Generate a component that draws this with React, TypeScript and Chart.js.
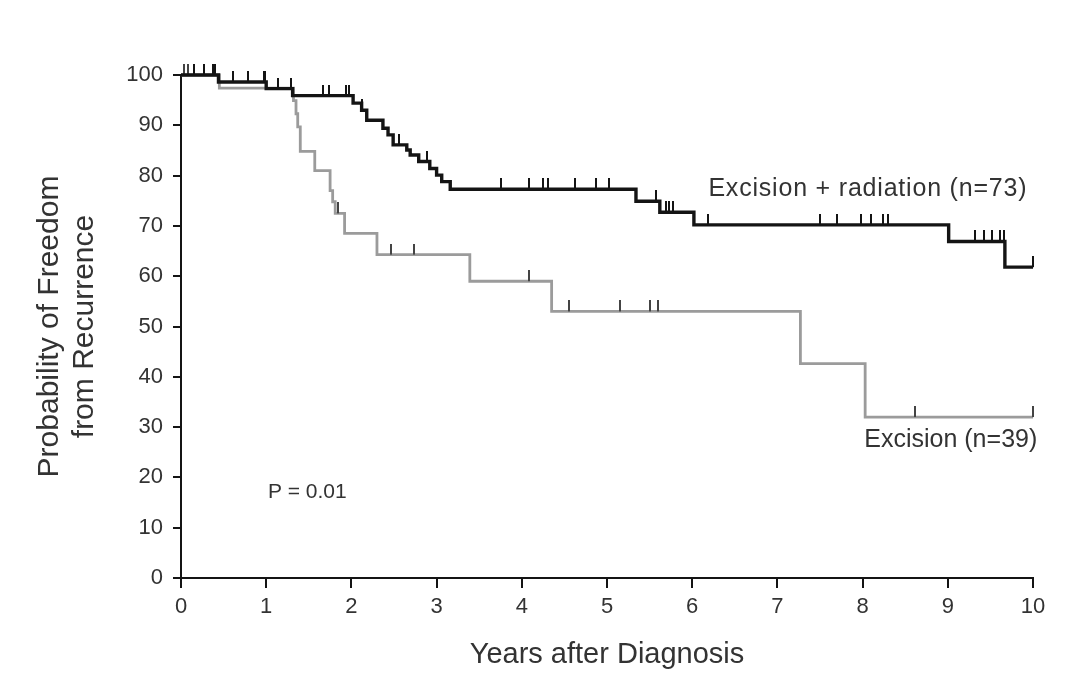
import React, { useEffect, useRef } from "react";
import { Chart, registerables } from "chart.js";

Chart.register(...registerables);

// Kaplan-Meier step data: time (years) at which the level starts, and level (%)
const radTimes = [0, 0.44, 1.0, 1.31, 2.02, 2.12, 2.18, 2.37, 2.43, 2.49, 2.65, 2.69, 2.79, 2.92, 3.0, 3.06, 3.16, 5.34, 5.62, 6.02, 9.01, 9.67, 10.0];
const radSurv = [100, 98.6, 97.3, 95.9, 94.4, 93.0, 91.0, 89.4, 88.1, 86.1, 85.1, 84.1, 82.8, 81.4, 80.1, 78.8, 77.3, 74.9, 72.7, 70.2, 66.9, 61.8, 61.8];
const radCensor = [0.15, 0.27, 0.38, 0.4, 0.61, 0.79, 0.97, 0.99, 1.14, 1.29, 1.67, 1.74, 1.94, 1.97, 2.12, 2.56, 2.89, 3.76, 4.09, 4.25, 4.31, 4.62, 4.87, 5.02, 5.57, 5.69, 5.73, 5.78, 6.19, 7.5, 7.7, 7.98, 8.1, 8.24, 8.3, 9.32, 9.43, 9.52, 9.61, 9.66, 10.0];

const excTimes = [0, 0.45, 1.32, 1.35, 1.37, 1.4, 1.57, 1.75, 1.78, 1.81, 1.92, 2.3, 3.39, 4.35, 7.27, 8.03, 10.0];
const excSurv = [100, 97.4, 94.9, 92.3, 89.7, 84.8, 81.0, 77.0, 74.8, 72.5, 68.5, 64.3, 59.0, 53.0, 42.6, 32.0, 32.0];
const excCensor = [0.04, 0.08, 1.84, 2.46, 2.74, 4.09, 4.55, 5.15, 5.5, 5.6, 8.62, 10.0];

const xTicks = [0, 1, 2, 3, 4, 5, 6, 7, 8, 9, 10];
const yTicks = [0, 10, 20, 30, 40, 50, 60, 70, 80, 90, 100];

const radLabel = "Excision + radiation (n=73)";
const excLabel = "Excision (n=39)";
const pLabel = "P = 0.01";
const xTitle = "Years after Diagnosis";
const yTitle = ["Probability of Freedom", "from Recurrence"];

const BLACK = "#141414";
const GRAY = "#9b9b9b";
const TEXT = "#333333";
const FONT = "'Liberation Sans', Arial, sans-serif";

function levelAt(times: number[], surv: number[], t: number) {
  let v = surv[0];
  for (let i = 0; i < times.length; i++) if (times[i] <= t) v = surv[i];
  return v;
}

function tickImage(color: string, w: number, h: number) {
  const c = document.createElement("canvas");
  c.width = w;
  c.height = h * 2;
  const ctx = c.getContext("2d")!;
  ctx.fillStyle = color;
  ctx.fillRect(0, 0, w, h);
  return c;
}

export default function App() {
  const ref = useRef<HTMLCanvasElement>(null);
  useEffect(() => {
    if (!ref.current) return;
    const annot = {
      id: "annot",
      afterDraw(chart: any) {
        const { ctx, scales } = chart;
        const x = scales.x, y = scales.y;
        ctx.save();
        ctx.fillStyle = TEXT;
        ctx.font = `25px ${FONT}`;
        ctx.textBaseline = "middle";
        ctx.textAlign = "left";
        (ctx as any).letterSpacing = "0.8px";
        ctx.fillText(radLabel, x.getPixelForValue(6.19), y.getPixelForValue(77.4));
        (ctx as any).letterSpacing = "0px";
        ctx.textAlign = "right";
        ctx.fillText(excLabel, x.getPixelForValue(10.05), y.getPixelForValue(27.5));
        ctx.textAlign = "left";
        ctx.font = `21px ${FONT}`;
        ctx.fillText(pLabel, x.getPixelForValue(1.02), y.getPixelForValue(17));
        ctx.restore();
      },
    };
    const chart = new Chart(ref.current, {
      type: "line",
      data: {
        datasets: [
          {
            label: "rad",
            data: radTimes.map((t, i) => ({ x: t, y: radSurv[i] })),
            borderColor: BLACK,
            borderWidth: 3.4,
            stepped: "before",
            pointRadius: 0,
            fill: false,
            clip: false as any,
            order: 1,
          },
          {
            label: "exc",
            data: excTimes.map((t, i) => ({ x: t, y: excSurv[i] })),
            borderColor: GRAY,
            borderWidth: 2.8,
            stepped: "before",
            pointRadius: 0,
            fill: false,
            clip: false as any,
            order: 3,
          },
          {
            label: "radCensor",
            data: radCensor.map((t) => ({ x: t, y: levelAt(radTimes, radSurv, t) })),
            showLine: false,
            pointStyle: tickImage(BLACK, 2, 11) as any,
            pointRadius: 3,
            clip: false as any,
            order: 0,
          },
          {
            label: "excCensor",
            data: excCensor.map((t) => ({ x: t, y: levelAt(excTimes, excSurv, t) })),
            showLine: false,
            pointStyle: tickImage("#444444", 2, 11) as any,
            pointRadius: 3,
            clip: false as any,
            order: 2,
          },
        ],
      },
      options: {
        animation: false,
        responsive: false,
        maintainAspectRatio: false,
        layout: { padding: { left: 0, right: 49, top: 75, bottom: 0 } },
        plugins: { legend: { display: false }, tooltip: { enabled: false } },
        scales: {
          x: {
            type: "linear",
            min: 0,
            max: 10,
            afterBuildTicks: (s: any) => {
              s.ticks = xTicks.map((v) => ({ value: v }));
            },
            afterFit: (s: any) => {
              s.height = 122;
            },
            grid: { drawOnChartArea: false, drawTicks: true, tickLength: 10, color: BLACK, lineWidth: 2 },
            border: { display: true, color: BLACK, width: 2 },
            ticks: { color: TEXT, font: { family: FONT, size: 22 }, padding: 6, maxRotation: 0, autoSkip: false },
            title: { display: true, text: xTitle, color: TEXT, font: { family: FONT, size: 29, lineHeight: 1.2 }, padding: { top: 0, bottom: 28 } },
          },
          y: {
            type: "linear",
            min: 0,
            max: 100,
            afterBuildTicks: (s: any) => {
              s.ticks = yTicks.map((v) => ({ value: v }));
            },
            afterFit: (s: any) => {
              s.width = 181;
            },
            grid: { drawOnChartArea: false, drawTicks: true, tickLength: 8, color: BLACK, lineWidth: 2 },
            border: { display: true, color: BLACK, width: 2 },
            ticks: { color: TEXT, font: { family: FONT, size: 22 }, padding: 10, autoSkip: false },
            title: { display: true, text: yTitle, color: TEXT, font: { family: FONT, size: 30, lineHeight: 1.18 }, padding: { top: 32, bottom: 0 } },
          },
        },
      },
      plugins: [annot],
    });
    return () => chart.destroy();
  }, []);
  return (
    <div style={{ position: "fixed", left: 0, top: 0, width: 1082, height: 700, background: "#ffffff" }}>
      <canvas ref={ref} width={1082} height={700} style={{ width: 1082, height: 700, display: "block" }} />
    </div>
  );
}
